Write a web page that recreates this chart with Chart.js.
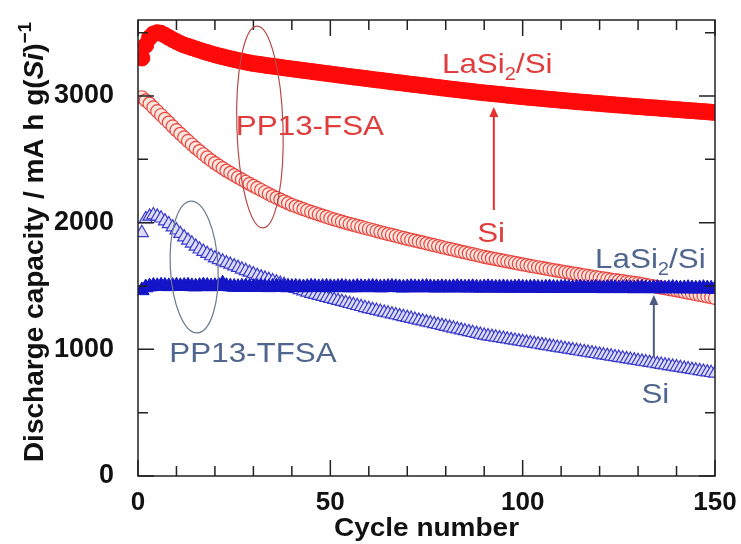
<!DOCTYPE html>
<html>
<head>
<meta charset="utf-8">
<script src="https://cdn.jsdelivr.net/npm/chart.js@4.4.1/dist/chart.umd.min.js"></script>
<style>
  html, body { margin: 0; padding: 0; background: #fff; }
</style>
</head>
<body>
<canvas id="myChart" width="741" height="544"></canvas>
<script>
// cycle index 1..150
const cycleNumbers = Array.from({ length: 150 }, (_, i) => i + 1);

// LaSi2/Si in PP13-FSA (red, filled circles)
const capLaSi2FSA = [
  3300, 3400, 3460, 3490, 3500, 3495, 3480, 3462, 3445, 3430,
  3415, 3402, 3392, 3382, 3372, 3362, 3352, 3343, 3334, 3325,
  3317, 3310, 3302, 3295, 3288, 3281, 3275, 3268, 3262, 3256,
  3252, 3248, 3243, 3239, 3235, 3231, 3227, 3222, 3218, 3214,
  3210, 3206, 3202, 3198, 3194, 3190, 3186, 3182, 3178, 3174,
  3170, 3166, 3162, 3158, 3154, 3150, 3147, 3143, 3139, 3135,
  3131, 3127, 3124, 3120, 3116, 3112, 3108, 3105, 3101, 3097,
  3093, 3090, 3086, 3082, 3079, 3075, 3071, 3068, 3064, 3060,
  3056, 3053, 3049, 3046, 3042, 3039, 3035, 3032, 3028, 3025,
  3022, 3019, 3016, 3013, 3010, 3006, 3003, 3000, 2997, 2994,
  2991, 2988, 2986, 2983, 2980, 2977, 2974, 2972, 2969, 2966,
  2963, 2961, 2958, 2955, 2953, 2950, 2948, 2945, 2943, 2940,
  2938, 2935, 2933, 2930, 2928, 2926, 2923, 2921, 2918, 2916,
  2914, 2911, 2909, 2907, 2905, 2902, 2900, 2898, 2895, 2893,
  2891, 2888, 2886, 2884, 2882, 2879, 2877, 2875, 2872, 2870
];

// Si in PP13-FSA (red, open circles)
const capSiFSA = [
  2990, 2965, 2940, 2910, 2880, 2850, 2820, 2790, 2760, 2730,
  2701, 2673, 2645, 2617, 2590, 2565, 2540, 2515, 2492, 2470,
  2450, 2430, 2411, 2393, 2375, 2357, 2340, 2323, 2306, 2290,
  2274, 2258, 2242, 2226, 2210, 2196, 2182, 2168, 2154, 2140,
  2129, 2118, 2107, 2096, 2085, 2075, 2065, 2055, 2045, 2035,
  2026, 2017, 2008, 1999, 1990, 1982, 1974, 1966, 1958, 1950,
  1942, 1934, 1926, 1918, 1910, 1903, 1895, 1887, 1880, 1872,
  1865, 1858, 1851, 1844, 1837, 1829, 1822, 1815, 1807, 1800,
  1793, 1786, 1779, 1772, 1765, 1758, 1751, 1744, 1737, 1730,
  1724, 1718, 1712, 1706, 1700, 1694, 1688, 1682, 1676, 1670,
  1665, 1659, 1654, 1648, 1643, 1637, 1632, 1626, 1621, 1615,
  1610, 1605, 1600, 1595, 1590, 1585, 1580, 1575, 1570, 1565,
  1560, 1556, 1551, 1547, 1542, 1538, 1533, 1529, 1524, 1520,
  1515, 1509, 1504, 1498, 1493, 1487, 1482, 1476, 1471, 1465,
  1459, 1453, 1447, 1441, 1435, 1429, 1423, 1417, 1411, 1405
];

// LaSi2/Si in PP13-TFSA (blue, filled)
const capLaSi2TFSA = [
  1465, 1488, 1495, 1500, 1498, 1502, 1500, 1497, 1499, 1501,
  1498, 1500, 1502, 1497, 1495, 1499, 1503, 1500, 1496, 1498,
  1500, 1518, 1499, 1495, 1493, 1491, 1494, 1496, 1492, 1490,
  1492, 1494, 1491, 1489, 1493, 1495, 1492, 1490, 1488, 1491,
  1493, 1490, 1488, 1491, 1494, 1492, 1489, 1491, 1493, 1490,
  1488, 1491, 1493, 1490, 1487, 1489, 1492, 1490, 1488, 1491,
  1493, 1490, 1487, 1489, 1491, 1493, 1490, 1488, 1486, 1489,
  1491, 1489, 1487, 1490, 1492, 1489, 1486, 1488, 1490, 1488,
  1486, 1489, 1491, 1488, 1486, 1488, 1490, 1487, 1485, 1488,
  1490, 1487, 1485, 1487, 1489, 1486, 1484, 1487, 1489, 1486,
  1484, 1486, 1488, 1485, 1483, 1486, 1488, 1485, 1483, 1485,
  1487, 1484, 1482, 1485, 1487, 1484, 1482, 1484, 1486, 1483,
  1481, 1484, 1486, 1483, 1481, 1483, 1485, 1482, 1480, 1483,
  1485, 1482, 1480, 1482, 1484, 1481, 1479, 1482, 1484, 1481,
  1479, 1481, 1483, 1480, 1478, 1481, 1483, 1480, 1478, 1476
];

// Si in PP13-TFSA (blue, open triangles)
const capSiTFSA = [
  1920, 2030, 2050, 2060, 2050, 2035, 2012, 1990, 1965, 1940,
  1913, 1886, 1860, 1837, 1813, 1790, 1772, 1755, 1737, 1720,
  1707, 1695, 1682, 1670, 1657, 1645, 1632, 1620, 1607, 1595,
  1582, 1570, 1560, 1550, 1540, 1530, 1520, 1510, 1500, 1490,
  1480, 1470, 1460, 1450, 1440, 1432, 1424, 1416, 1408, 1400,
  1392, 1384, 1376, 1368, 1360, 1352, 1344, 1336, 1328, 1320,
  1313, 1306, 1299, 1292, 1285, 1278, 1271, 1264, 1257, 1250,
  1243, 1236, 1229, 1222, 1215, 1208, 1201, 1194, 1187, 1180,
  1173, 1166, 1159, 1152, 1145, 1138, 1131, 1124, 1117, 1110,
  1105, 1100, 1095, 1090, 1085, 1080, 1075, 1070, 1065, 1060,
  1055, 1050, 1045, 1040, 1035, 1030, 1025, 1020, 1015, 1010,
  1005, 1000, 995, 990, 985, 980, 975, 970, 965, 960,
  955, 950, 945, 940, 935, 930, 925, 920, 915, 910,
  905, 900, 895, 890, 885, 880, 875, 870, 865, 860,
  855, 850, 845, 840, 835, 830, 825, 820, 815, 810
];

const FONT = '"Liberation Sans", Arial, sans-serif';
const STRETCH = 1.12;
const RED_TXT = '#e03c3c';
const BLUE_TXT = '#51668f';

function toXY(vals) {
  return cycleNumbers.map((c, i) => ({ x: c, y: vals[i] }));
}

// text with pieces (sub/superscripts), stretched a bit horizontally like the original
function drawPieces(ctx, pieces, x, y, color) {
  ctx.save();
  ctx.fillStyle = color;
  ctx.textBaseline = 'alphabetic';
  ctx.textAlign = 'left';
  let w = 0;
  pieces.forEach(p => { ctx.font = p.font; w += ctx.measureText(p.text).width; });
  ctx.translate(x, y);
  ctx.scale(STRETCH, 1);
  let cx = -w / 2;
  pieces.forEach(p => {
    ctx.font = p.font;
    ctx.fillText(p.text, cx, p.dy || 0);
    cx += ctx.measureText(p.text).width;
  });
  ctx.restore();
}

function lasi2(size) {
  return [
    { text: 'LaSi', font: size + 'px ' + FONT },
    { text: '2', font: Math.round(size * 0.65) + 'px ' + FONT, dy: 7 },
    { text: '/Si', font: size + 'px ' + FONT }
  ];
}

const frameTicks = {
  id: 'frameTicks',
  afterDatasetsDraw(chart) {
    const { ctx, chartArea: a, scales: { x, y } } = chart;
    ctx.save();
    ctx.strokeStyle = '#222';
    ctx.lineWidth = 1.5;
    ctx.strokeRect(a.left, a.top, a.right - a.left, a.bottom - a.top);
    ctx.beginPath();
    x.ticks.forEach(t => {
      if (t.value % 10 !== 0) return;
      const px = x.getPixelForValue(t.value);
      const len = t.value % 50 === 0 ? 16 : 10;
      ctx.moveTo(px, a.bottom); ctx.lineTo(px, a.bottom - len);
      ctx.moveTo(px, a.top); ctx.lineTo(px, a.top + len);
    });
    y.ticks.forEach(t => {
      if (t.value % 500 !== 0) return;
      const py = y.getPixelForValue(t.value);
      const len = t.value % 1000 === 0 ? 16 : 10;
      ctx.moveTo(a.left, py); ctx.lineTo(a.left + len, py);
      ctx.moveTo(a.right, py); ctx.lineTo(a.right - len, py);
    });
    ctx.stroke();
    ctx.restore();
  }
};

const notes = {
  id: 'notes',
  afterDatasetsDraw(chart) {
    const { ctx, chartArea: a, scales: { x, y } } = chart;
    const X = v => x.getPixelForValue(v);
    const Y = v => y.getPixelForValue(v);

    // ellipses grouping the series
    ctx.save();
    ctx.lineWidth = 1.2;
    ctx.strokeStyle = '#b84a4a';
    ctx.beginPath();
    ctx.ellipse(X(31.7), Y(2755), X(37.7) - X(31.7), Y(2755) - Y(3552), -0.03, 0, Math.PI * 2);
    ctx.stroke();
    ctx.strokeStyle = '#6b7a8c';
    ctx.beginPath();
    ctx.ellipse(X(14.6), Y(1650), X(20.8) - X(14.6), Y(1650) - Y(2171), -0.05, 0, Math.PI * 2);
    ctx.stroke();

    // arrows
    function arrow(cx, v0, v1, color) {
      const px = X(cx), y0 = Y(v0), y1 = Y(v1);
      ctx.strokeStyle = color;
      ctx.fillStyle = color;
      ctx.lineWidth = 2;
      ctx.beginPath();
      ctx.moveTo(px, y0); ctx.lineTo(px, y1 + 8);
      ctx.stroke();
      ctx.beginPath();
      ctx.moveTo(px, y1); ctx.lineTo(px - 4.5, y1 + 10); ctx.lineTo(px + 4.5, y1 + 10);
      ctx.closePath();
      ctx.fill();
    }
    arrow(92.5, 2100, 2913, '#e62e2e');
    arrow(134.1, 939, 1429, '#4a5a82');
    ctx.restore();

    const f28 = '28px ' + FONT;
    drawPieces(ctx, lasi2(28), X(93.4), Y(3182), RED_TXT);
    drawPieces(ctx, [{ text: 'PP13-FSA', font: f28 }], X(44.7), Y(2692), RED_TXT);
    drawPieces(ctx, [{ text: 'Si', font: f28 }], X(91.8), Y(1847), RED_TXT);
    drawPieces(ctx, lasi2(28), X(133.2), Y(1642), BLUE_TXT);
    drawPieces(ctx, [{ text: 'Si', font: f28 }], X(134.5), Y(576), BLUE_TXT);
    drawPieces(ctx, [{ text: 'PP13-TFSA', font: f28 }], X(29.9), Y(900), BLUE_TXT);

    // axis titles
    drawPieces(ctx, [{ text: 'Cycle number', font: 'bold 25px ' + FONT }],
      (a.left + a.right) / 2, 536, '#111');

    const b = 'bold 28px ' + FONT;
    const parts = [
      { text: 'Discharge capacity / mA h g(', font: b },
      { text: 'Si', font: 'italic bold 28px ' + FONT },
      { text: ')', font: b },
      { text: '\u22121', font: 'bold 19px ' + FONT, dy: -12 }
    ];
    ctx.save();
    ctx.fillStyle = '#111';
    ctx.textBaseline = 'alphabetic';
    let w = 0;
    parts.forEach(p => { ctx.font = p.font; w += ctx.measureText(p.text).width; });
    ctx.translate(43, 242);
    ctx.rotate(-Math.PI / 2);
    let cx = -w / 2;
    parts.forEach(p => {
      ctx.font = p.font;
      ctx.fillText(p.text, cx, p.dy || 0);
      cx += ctx.measureText(p.text).width;
    });
    ctx.restore();
  }
};

const config = {
  type: 'scatter',
  data: {
    datasets: [
      {
        label: 'LaSi2/Si PP13-FSA',
        data: toXY(capLaSi2FSA),
        order: 0,
        pointStyle: 'circle',
        pointRadius: 8,
        pointBorderWidth: 1,
        pointBackgroundColor: '#ff0a0a',
        pointBorderColor: '#ff0a0a'
      },
      {
        label: 'LaSi2/Si PP13-TFSA',
        data: toXY(capLaSi2TFSA),
        order: 1,
        pointStyle: 'triangle',
        pointRadius: 8.5,
        pointBorderWidth: 1,
        pointBackgroundColor: '#1414c8',
        pointBorderColor: '#1414c8'
      },
      {
        label: 'Si PP13-FSA',
        data: toXY(capSiFSA),
        order: 2,
        pointStyle: 'circle',
        pointRadius: 6.5,
        pointBorderWidth: 1.2,
        pointBackgroundColor: '#fde6de',
        pointBorderColor: '#e8453f'
      },
      {
        label: 'Si PP13-TFSA',
        data: toXY(capSiTFSA),
        order: 3,
        pointStyle: 'triangle',
        pointRadius: 7.5,
        pointBorderWidth: 1.2,
        pointBackgroundColor: '#dcdcf6',
        pointBorderColor: '#3a3acc'
      }
    ]
  },
  options: {
    responsive: false,
    animation: false,
    events: [],
    layout: { padding: { left: 0, top: 20, right: 26, bottom: 0 } },
    plugins: {
      legend: { display: false },
      tooltip: { enabled: false },
      title: { display: false }
    },
    scales: {
      x: {
        type: 'linear',
        min: 0,
        max: 150,
        afterFit: s => { s.height = 68; s.paddingLeft = 0; s.paddingRight = 0; },
        grid: { display: false },
        border: { display: false },
        ticks: {
          stepSize: 10,
          autoSkip: false,
          maxRotation: 0,
          padding: 3,
          color: '#111',
          font: { family: FONT, size: 26, weight: 'bold' },
          callback: v => (v % 50 === 0 ? String(v) : '')
        }
      },
      y: {
        type: 'linear',
        min: 0,
        max: 3600,
        afterFit: s => { s.width = 138; s.paddingTop = 0; s.paddingBottom = 0; },
        grid: { display: false },
        border: { display: false },
        ticks: {
          stepSize: 100,
          autoSkip: false,
          padding: 16,
          color: '#111',
          font: { family: FONT, size: 27, weight: 'bold' },
          callback: v => (v % 1000 === 0 ? String(v) : '')
        }
      }
    }
  },
  plugins: [frameTicks, notes]
};

const ctx = document.getElementById('myChart');
new Chart(ctx, config);
</script>
</body>
</html>
